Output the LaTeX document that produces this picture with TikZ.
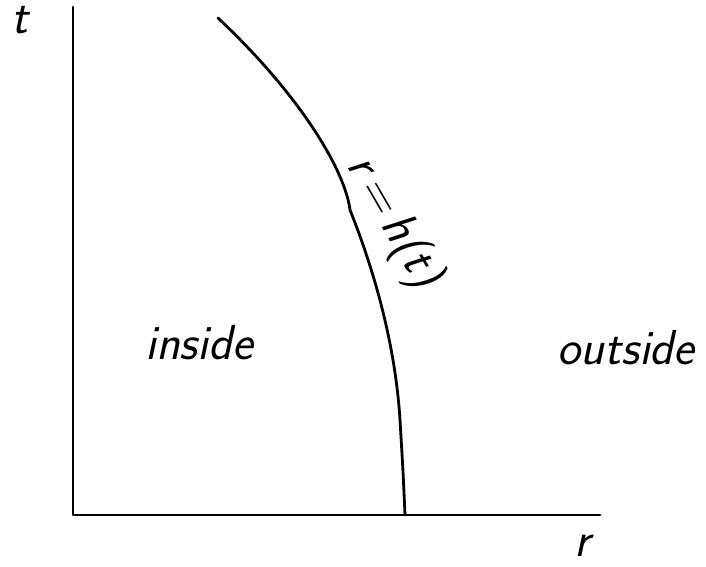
\documentclass[tikz,border=0pt]{standalone}
\usepackage{tikz}
\tikzset{
  hand/.style={font=\fontsize{28}{32}\selectfont\sffamily\slshape},
  stroke/.style={line width=1.6pt, line cap=round, line join=round}
}

\begin{document}
\begin{tikzpicture}[x=0.02cm, y=-0.02cm]
  \useasboundingbox (0,0) rectangle (706,567);
  \coordinate (O) at (73,515);
  \coordinate (T) at (73,7);
  \coordinate (R) at (600,515);
  \draw[stroke] (T) -- (O) -- (R);
  \node[hand] (tlab) at (20,20) {t};
  \node[hand] (rlab) at (582,546) {r};
  % boundary curve
  \coordinate (top) at (218,18);
  \coordinate (foot) at (405,515);
  \draw[stroke] (top) .. controls (300,95) and (345,170) .. (350,210)
    .. controls (372,265) and (395,340) .. (400,420)
    .. controls (403,470) .. (foot);
  \node[hand, rotate=-60, inner sep=0pt] (hlab) at (393,222) {r\,=\,h(t)};
  \node[hand] (in) at (199,343) {inside};
  \node[hand] (out) at (626,348) {outside};
\end{tikzpicture}
\end{document}
